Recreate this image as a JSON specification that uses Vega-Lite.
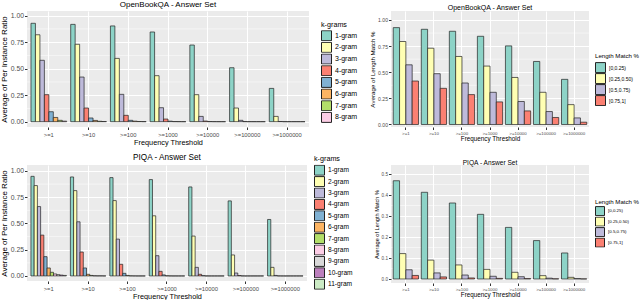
{
"$schema": "https://vega.github.io/schema/vega-lite/v6.json",
"padding": {"left": 0, "top": 0, "right": 0, "bottom": 0},
"config": {
 "font": "Liberation Sans",
 "axis": {"domain": false, "tickColor": "#333333", "tickSize": 2.5, "labelColor": "#4D4D4D", "titleColor": "#000000", "titleFontWeight": "normal", "gridColor": "#FFFFFF", "gridWidth": 1},
 "title": {"fontWeight": "normal", "color": "#000000", "anchor": "middle", "frame": "group"},
 "legend": {"titleFontWeight": "normal", "titleColor": "#000000", "labelColor": "#000000", "symbolType": "square", "symbolStrokeColor": "#222222", "symbolStrokeWidth": 1, "orient": "none"}
},
"datasets": {
 "obqa_k": [
  {"threshold":">=1","group":"1-gram","value":0.928},{"threshold":">=1","group":"2-gram","value":0.82},{"threshold":">=1","group":"3-gram","value":0.579},{"threshold":">=1","group":"4-gram","value":0.255},{"threshold":">=1","group":"5-gram","value":0.094},{"threshold":">=1","group":"6-gram","value":0.04},{"threshold":">=1","group":"7-gram","value":0.013},{"threshold":">=1","group":"8-gram","value":0.005},
  {"threshold":">=10","group":"1-gram","value":0.918},{"threshold":">=10","group":"2-gram","value":0.73},{"threshold":">=10","group":"3-gram","value":0.421},{"threshold":">=10","group":"4-gram","value":0.129},{"threshold":">=10","group":"5-gram","value":0.035},{"threshold":">=10","group":"6-gram","value":0.012},{"threshold":">=10","group":"7-gram","value":0.004},{"threshold":">=10","group":"8-gram","value":0.002},
  {"threshold":">=100","group":"1-gram","value":0.903},{"threshold":">=100","group":"2-gram","value":0.597},{"threshold":">=100","group":"3-gram","value":0.258},{"threshold":">=100","group":"4-gram","value":0.06},{"threshold":">=100","group":"5-gram","value":0.013},{"threshold":">=100","group":"6-gram","value":0.005},{"threshold":">=100","group":"7-gram","value":0.002},{"threshold":">=100","group":"8-gram","value":0.001},
  {"threshold":">=1000","group":"1-gram","value":0.846},{"threshold":">=1000","group":"2-gram","value":0.434},{"threshold":">=1000","group":"3-gram","value":0.132},{"threshold":">=1000","group":"4-gram","value":0.025},{"threshold":">=1000","group":"5-gram","value":0.005},{"threshold":">=1000","group":"6-gram","value":0.001},{"threshold":">=1000","group":"7-gram","value":0.0005},{"threshold":">=1000","group":"8-gram","value":0.0002},
  {"threshold":">=10000","group":"1-gram","value":0.723},{"threshold":">=10000","group":"2-gram","value":0.255},{"threshold":">=10000","group":"3-gram","value":0.05},{"threshold":">=10000","group":"4-gram","value":0.006},{"threshold":">=10000","group":"5-gram","value":0.001},{"threshold":">=10000","group":"6-gram","value":0.0003},{"threshold":">=10000","group":"7-gram","value":0.0001},{"threshold":">=10000","group":"8-gram","value":0},
  {"threshold":">=100000","group":"1-gram","value":0.509},{"threshold":">=100000","group":"2-gram","value":0.129},{"threshold":">=100000","group":"3-gram","value":0.013},{"threshold":">=100000","group":"4-gram","value":0.001},{"threshold":">=100000","group":"5-gram","value":0.0002},{"threshold":">=100000","group":"6-gram","value":0},{"threshold":">=100000","group":"7-gram","value":0},{"threshold":">=100000","group":"8-gram","value":0},
  {"threshold":">=1000000","group":"1-gram","value":0.314},{"threshold":">=1000000","group":"2-gram","value":0.05},{"threshold":">=1000000","group":"3-gram","value":0.002},{"threshold":">=1000000","group":"4-gram","value":0.0002},{"threshold":">=1000000","group":"5-gram","value":0},{"threshold":">=1000000","group":"6-gram","value":0},{"threshold":">=1000000","group":"7-gram","value":0},{"threshold":">=1000000","group":"8-gram","value":0}
 ],
 "obqa_len": [
  {"threshold":">=1","group":"[0,0.25)","value":0.927},{"threshold":">=1","group":"[0.25,0.50)","value":0.794},{"threshold":">=1","group":"[0.5,0.75)","value":0.571},{"threshold":">=1","group":"[0.75,1]","value":0.416},
  {"threshold":">=10","group":"[0,0.25)","value":0.911},{"threshold":">=10","group":"[0.25,0.50)","value":0.73},{"threshold":">=10","group":"[0.5,0.75)","value":0.486},{"threshold":">=10","group":"[0.75,1]","value":0.346},
  {"threshold":">=100","group":"[0,0.25)","value":0.892},{"threshold":">=100","group":"[0.25,0.50)","value":0.651},{"threshold":">=100","group":"[0.5,0.75)","value":0.397},{"threshold":">=100","group":"[0.75,1]","value":0.286},
  {"threshold":">=1000","group":"[0,0.25)","value":0.844},{"threshold":">=1000","group":"[0.25,0.50)","value":0.559},{"threshold":">=1000","group":"[0.5,0.75)","value":0.308},{"threshold":">=1000","group":"[0.75,1]","value":0.216},
  {"threshold":">=10000","group":"[0,0.25)","value":0.752},{"threshold":">=10000","group":"[0.25,0.50)","value":0.45},{"threshold":">=10000","group":"[0.5,0.75)","value":0.22},{"threshold":">=10000","group":"[0.75,1]","value":0.13},
  {"threshold":">=100000","group":"[0,0.25)","value":0.603},{"threshold":">=100000","group":"[0.25,0.50)","value":0.308},{"threshold":">=100000","group":"[0.5,0.75)","value":0.124},{"threshold":">=100000","group":"[0.75,1]","value":0.067},
  {"threshold":">=1000000","group":"[0,0.25)","value":0.432},{"threshold":">=1000000","group":"[0.25,0.50)","value":0.19},{"threshold":">=1000000","group":"[0.5,0.75)","value":0.063},{"threshold":">=1000000","group":"[0.75,1]","value":0.022}
 ],
 "piqa_k": [
  {"threshold":">=1","group":"1-gram","value":0.949},{"threshold":">=1","group":"2-gram","value":0.861},{"threshold":">=1","group":"3-gram","value":0.661},{"threshold":">=1","group":"4-gram","value":0.389},{"threshold":">=1","group":"5-gram","value":0.184},{"threshold":">=1","group":"6-gram","value":0.076},{"threshold":">=1","group":"7-gram","value":0.035},{"threshold":">=1","group":"8-gram","value":0.019},{"threshold":">=1","group":"9-gram","value":0.012},{"threshold":">=1","group":"10-gram","value":0.008},{"threshold":">=1","group":"11-gram","value":0.005},
  {"threshold":">=10","group":"1-gram","value":0.943},{"threshold":">=10","group":"2-gram","value":0.813},{"threshold":">=10","group":"3-gram","value":0.516},{"threshold":">=10","group":"4-gram","value":0.228},{"threshold":">=10","group":"5-gram","value":0.076},{"threshold":">=10","group":"6-gram","value":0.016},{"threshold":">=10","group":"7-gram","value":0.005},{"threshold":">=10","group":"8-gram","value":0.002},{"threshold":">=10","group":"9-gram","value":0.001},{"threshold":">=10","group":"10-gram","value":0.001},{"threshold":">=10","group":"11-gram","value":0.0005},
  {"threshold":">=100","group":"1-gram","value":0.937},{"threshold":">=100","group":"2-gram","value":0.718},{"threshold":">=100","group":"3-gram","value":0.351},{"threshold":">=100","group":"4-gram","value":0.111},{"threshold":">=100","group":"5-gram","value":0.025},{"threshold":">=100","group":"6-gram","value":0.005},{"threshold":">=100","group":"7-gram","value":0.001},{"threshold":">=100","group":"8-gram","value":0.0005},{"threshold":">=100","group":"9-gram","value":0},{"threshold":">=100","group":"10-gram","value":0},{"threshold":">=100","group":"11-gram","value":0},
  {"threshold":">=1000","group":"1-gram","value":0.918},{"threshold":">=1000","group":"2-gram","value":0.573},{"threshold":">=1000","group":"3-gram","value":0.193},{"threshold":">=1000","group":"4-gram","value":0.044},{"threshold":">=1000","group":"5-gram","value":0.01},{"threshold":">=1000","group":"6-gram","value":0.002},{"threshold":">=1000","group":"7-gram","value":0.0005},{"threshold":">=1000","group":"8-gram","value":0},{"threshold":">=1000","group":"9-gram","value":0},{"threshold":">=1000","group":"10-gram","value":0},{"threshold":">=1000","group":"11-gram","value":0},
  {"threshold":">=10000","group":"1-gram","value":0.848},{"threshold":">=10000","group":"2-gram","value":0.38},{"threshold":">=10000","group":"3-gram","value":0.082},{"threshold":">=10000","group":"4-gram","value":0.016},{"threshold":">=10000","group":"5-gram","value":0.003},{"threshold":">=10000","group":"6-gram","value":0.0005},{"threshold":">=10000","group":"7-gram","value":0},{"threshold":">=10000","group":"8-gram","value":0},{"threshold":">=10000","group":"9-gram","value":0},{"threshold":">=10000","group":"10-gram","value":0},{"threshold":">=10000","group":"11-gram","value":0},
  {"threshold":">=100000","group":"1-gram","value":0.715},{"threshold":">=100000","group":"2-gram","value":0.2},{"threshold":">=100000","group":"3-gram","value":0.028},{"threshold":">=100000","group":"4-gram","value":0.004},{"threshold":">=100000","group":"5-gram","value":0.0005},{"threshold":">=100000","group":"6-gram","value":0},{"threshold":">=100000","group":"7-gram","value":0},{"threshold":">=100000","group":"8-gram","value":0},{"threshold":">=100000","group":"9-gram","value":0},{"threshold":">=100000","group":"10-gram","value":0},{"threshold":">=100000","group":"11-gram","value":0},
  {"threshold":">=1000000","group":"1-gram","value":0.538},{"threshold":">=1000000","group":"2-gram","value":0.082},{"threshold":">=1000000","group":"3-gram","value":0.005},{"threshold":">=1000000","group":"4-gram","value":0.0005},{"threshold":">=1000000","group":"5-gram","value":0},{"threshold":">=1000000","group":"6-gram","value":0},{"threshold":">=1000000","group":"7-gram","value":0},{"threshold":">=1000000","group":"8-gram","value":0},{"threshold":">=1000000","group":"9-gram","value":0},{"threshold":">=1000000","group":"10-gram","value":0},{"threshold":">=1000000","group":"11-gram","value":0}
 ],
 "piqa_len": [
  {"threshold":">=1","group":"[0,0.25)","value":0.468},{"threshold":">=1","group":"[0.25,0.50)","value":0.121},{"threshold":">=1","group":"[0.5,0.75)","value":0.044},{"threshold":">=1","group":"[0.75,1]","value":0.017},
  {"threshold":">=10","group":"[0,0.25)","value":0.413},{"threshold":">=10","group":"[0.25,0.50)","value":0.09},{"threshold":">=10","group":"[0.5,0.75)","value":0.029},{"threshold":">=10","group":"[0.75,1]","value":0.01},
  {"threshold":">=100","group":"[0,0.25)","value":0.362},{"threshold":">=100","group":"[0.25,0.50)","value":0.067},{"threshold":">=100","group":"[0.5,0.75)","value":0.019},{"threshold":">=100","group":"[0.75,1]","value":0.005},
  {"threshold":">=1000","group":"[0,0.25)","value":0.308},{"threshold":">=1000","group":"[0.25,0.50)","value":0.046},{"threshold":">=1000","group":"[0.5,0.75)","value":0.013},{"threshold":">=1000","group":"[0.75,1]","value":0.003},
  {"threshold":">=10000","group":"[0,0.25)","value":0.246},{"threshold":">=10000","group":"[0.25,0.50)","value":0.032},{"threshold":">=10000","group":"[0.5,0.75)","value":0.011},{"threshold":">=10000","group":"[0.75,1]","value":0.002},
  {"threshold":">=100000","group":"[0,0.25)","value":0.183},{"threshold":">=100000","group":"[0.25,0.50)","value":0.016},{"threshold":">=100000","group":"[0.5,0.75)","value":0.004},{"threshold":">=100000","group":"[0.75,1]","value":0.001},
  {"threshold":">=1000000","group":"[0,0.25)","value":0.124},{"threshold":">=1000000","group":"[0.25,0.50)","value":0.008},{"threshold":">=1000000","group":"[0.5,0.75)","value":0.002},{"threshold":">=1000000","group":"[0.75,1]","value":0.0005}
 ],
 "minor1": [{"value":0.125},{"value":0.375},{"value":0.625},{"value":0.875}],
 "minor2": [{"value":0.05},{"value":0.15},{"value":0.25},{"value":0.35},{"value":0.45}]
},
"resolve": {"scale": {"color":"independent","x":"independent","y":"independent","xOffset":"independent"}, "legend": {"color":"independent"}, "axis": {"x":"independent","y":"independent"}},
"columns": 2,
"spacing": {"row": 38, "column": 82},
"bounds": "flush",
"concat": [
 {
  "width": 282, "height": 116,
  "view": {"fill": "#EBEBEB", "stroke": null},
  "title": {"text": "OpenBookQA - Answer Set", "fontSize": 8, "offset": 2.5},
  "encoding": {"y": {"field": "value", "type": "quantitative", "stack": null, "scale": {"domain": [-0.05, 1.044], "nice": false, "zero": false}, "axis": {"values": [0, 0.25, 0.5, 0.75, 1], "format": ".2f", "title": "Average of Per Instance Ratio", "titleFontSize": 8, "labelFontSize": 6.8, "labelPadding": 1, "titlePadding": 2}}},
  "layer": [
   {"data": {"name": "minor1"}, "mark": {"type": "rule", "color": "#FFFFFF", "strokeWidth": 0.5}, "encoding": {}},
   {"data": {"name": "obqa_k"}, "mark": {"type": "bar", "stroke": "#222222", "strokeWidth": 0.7},
    "encoding": {
     "x": {"field": "threshold", "type": "nominal", "sort": [">=1", ">=10", ">=100", ">=1000", ">=10000", ">=100000", ">=1000000"], "scale": {"paddingInner": 0.1, "paddingOuter": 0.1}, "axis": {"title": "Frequency Threshold", "labelAngle": 0, "bandPosition": 0.5, "grid": true, "labelFontSize": 5.8, "titleFontSize": 7.3, "labelPadding": 1.5, "titlePadding": 1.5}},
     "xOffset": {"field": "group", "type": "nominal", "sort": ["1-gram","2-gram","3-gram","4-gram","5-gram","6-gram","7-gram","8-gram"], "scale": {"paddingInner": 0, "paddingOuter": 0}},
     "y2": {"datum": 0},
     "color": {"field": "group", "type": "nominal", "scale": {"domain": ["1-gram","2-gram","3-gram","4-gram","5-gram","6-gram","7-gram","8-gram"], "range": ["#8DD3C7","#FFFFB3","#BEBADA","#FB8072","#80B1D3","#FDB462","#B3DE69","#FCCDE5"]}, "legend": {"title": "k-grams", "titleFontSize": 7.2, "labelFontSize": 7, "symbolSize": 100, "clipHeight": 11, "rowPadding": 0.67, "titlePadding": 2, "labelOffset": 3, "legendX": 294, "legendY": 10}}
    }}
  ]
 },
 {
  "width": 198, "height": 116,
  "view": {"fill": "#EBEBEB", "stroke": null},
  "title": {"text": "OpenBookQA - Answer Set", "fontSize": 7, "offset": 0.5},
  "encoding": {"y": {"field": "value", "type": "quantitative", "stack": null, "scale": {"domain": [-0.024, 1.086], "nice": false, "zero": false}, "axis": {"values": [0, 0.25, 0.5, 0.75, 1], "format": ".2f", "title": "Average of Length Match %", "titleFontSize": 6.2, "labelFontSize": 5.1, "labelPadding": 1, "titlePadding": 2}}},
  "layer": [
   {"data": {"name": "minor1"}, "mark": {"type": "rule", "color": "#FFFFFF", "strokeWidth": 0.5}, "encoding": {}},
   {"data": {"name": "obqa_len"}, "mark": {"type": "bar", "stroke": "#222222", "strokeWidth": 0.7},
    "encoding": {
     "x": {"field": "threshold", "type": "nominal", "sort": [">=1", ">=10", ">=100", ">=1000", ">=10000", ">=100000", ">=1000000"], "scale": {"paddingInner": 0.1, "paddingOuter": 0.08}, "axis": {"title": "Frequency Threshold", "labelAngle": 0, "bandPosition": 0.5, "grid": true, "labelFontSize": 4.4, "titleFontSize": 6.3, "labelPadding": 1.5, "titlePadding": 1.5}},
     "xOffset": {"field": "group", "type": "nominal", "sort": ["[0,0.25)","[0.25,0.50)","[0.5,0.75)","[0.75,1]"], "scale": {"paddingInner": 0, "paddingOuter": 0}},
     "y2": {"datum": 0},
     "color": {"field": "group", "type": "nominal", "scale": {"domain": ["[0,0.25)","[0.25,0.50)","[0.5,0.75)","[0.75,1]"], "range": ["#8DD3C7","#FFFFB3","#BEBADA","#FB8072"]}, "legend": {"title": "Length Match %", "titleFontSize": 6.1, "labelFontSize": 5, "symbolSize": 100, "clipHeight": 11, "rowPadding": 0, "titlePadding": 3, "labelOffset": 3, "legendX": 204, "legendY": 42}}
    }}
  ]
 },
 {
  "width": 280, "height": 116,
  "view": {"fill": "#EBEBEB", "stroke": null},
  "title": {"text": "PIQA - Answer Set", "fontSize": 8.2, "offset": -8},
  "encoding": {"y": {"field": "value", "type": "quantitative", "stack": null, "scale": {"domain": [-0.048, 1.057], "nice": false, "zero": false}, "axis": {"values": [0, 0.25, 0.5, 0.75, 1], "format": ".2f", "title": "Average of Per Instance Ratio", "titleFontSize": 8, "labelFontSize": 6.8, "labelPadding": 1, "titlePadding": 2}}},
  "layer": [
   {"data": {"name": "minor1"}, "mark": {"type": "rule", "color": "#FFFFFF", "strokeWidth": 0.5}, "encoding": {}},
   {"data": {"name": "piqa_k"}, "mark": {"type": "bar", "stroke": "#222222", "strokeWidth": 0.7},
    "encoding": {
     "x": {"field": "threshold", "type": "nominal", "sort": [">=1", ">=10", ">=100", ">=1000", ">=10000", ">=100000", ">=1000000"], "scale": {"paddingInner": 0.1, "paddingOuter": 0.1}, "axis": {"title": "Frequency Threshold", "labelAngle": 0, "bandPosition": 0.5, "grid": true, "labelFontSize": 5.8, "titleFontSize": 7.3, "labelPadding": 1.5, "titlePadding": 1.5}},
     "xOffset": {"field": "group", "type": "nominal", "sort": ["1-gram","2-gram","3-gram","4-gram","5-gram","6-gram","7-gram","8-gram","9-gram","10-gram","11-gram"], "scale": {"paddingInner": 0, "paddingOuter": 0}},
     "y2": {"datum": 0},
     "color": {"field": "group", "type": "nominal", "scale": {"domain": ["1-gram","2-gram","3-gram","4-gram","5-gram","6-gram","7-gram","8-gram","9-gram","10-gram","11-gram"], "range": ["#8DD3C7","#FFFFB3","#BEBADA","#FB8072","#80B1D3","#FDB462","#B3DE69","#FCCDE5","#D9D9D9","#BC80BD","#CCEBC5"]}, "legend": {"title": "k-grams", "titleFontSize": 7.2, "labelFontSize": 6.6, "symbolSize": 100, "clipHeight": 11, "rowPadding": 0.4, "titlePadding": 3, "labelOffset": 3, "legendX": 287, "legendY": -10.5}}
    }}
  ]
 },
 {
  "width": 198, "height": 118,
  "view": {"fill": "#EBEBEB", "stroke": null},
  "title": {"text": "PIQA - Answer Set", "fontSize": 6.6, "offset": -1.5},
  "encoding": {"y": {"field": "value", "type": "quantitative", "stack": null, "scale": {"domain": [-0.019, 0.543], "nice": false, "zero": false}, "axis": {"values": [0, 0.1, 0.2, 0.3, 0.4, 0.5], "format": ".1f", "title": "Average of Length Match %", "titleFontSize": 5.6, "labelFontSize": 4.6, "labelPadding": 1, "titlePadding": 2}}},
  "layer": [
   {"data": {"name": "minor2"}, "mark": {"type": "rule", "color": "#FFFFFF", "strokeWidth": 0.5}, "encoding": {}},
   {"data": {"name": "piqa_len"}, "mark": {"type": "bar", "stroke": "#222222", "strokeWidth": 0.7},
    "encoding": {
     "x": {"field": "threshold", "type": "nominal", "sort": [">=1", ">=10", ">=100", ">=1000", ">=10000", ">=100000", ">=1000000"], "scale": {"paddingInner": 0.1, "paddingOuter": 0.08}, "axis": {"title": "Frequency Threshold", "labelAngle": 0, "bandPosition": 0.5, "grid": true, "labelFontSize": 4.4, "titleFontSize": 6.3, "labelPadding": 1.5, "titlePadding": 1.5}},
     "xOffset": {"field": "group", "type": "nominal", "sort": ["[0,0.25)","[0.25,0.50)","[0.5,0.75)","[0.75,1]"], "scale": {"paddingInner": 0, "paddingOuter": 0}},
     "y2": {"datum": 0},
     "color": {"field": "group", "type": "nominal", "scale": {"domain": ["[0,0.25)","[0.25,0.50)","[0.5,0.75)","[0.75,1]"], "range": ["#8DD3C7","#FFFFB3","#BEBADA","#FB8072"]}, "legend": {"title": "Length Match %", "titleFontSize": 6.1, "labelFontSize": 4.4, "symbolSize": 81, "clipHeight": 10, "rowPadding": 0.5, "titlePadding": 1, "labelOffset": 3, "legendX": 204, "legendY": 34}}
    }}
  ]
 }
]
}
